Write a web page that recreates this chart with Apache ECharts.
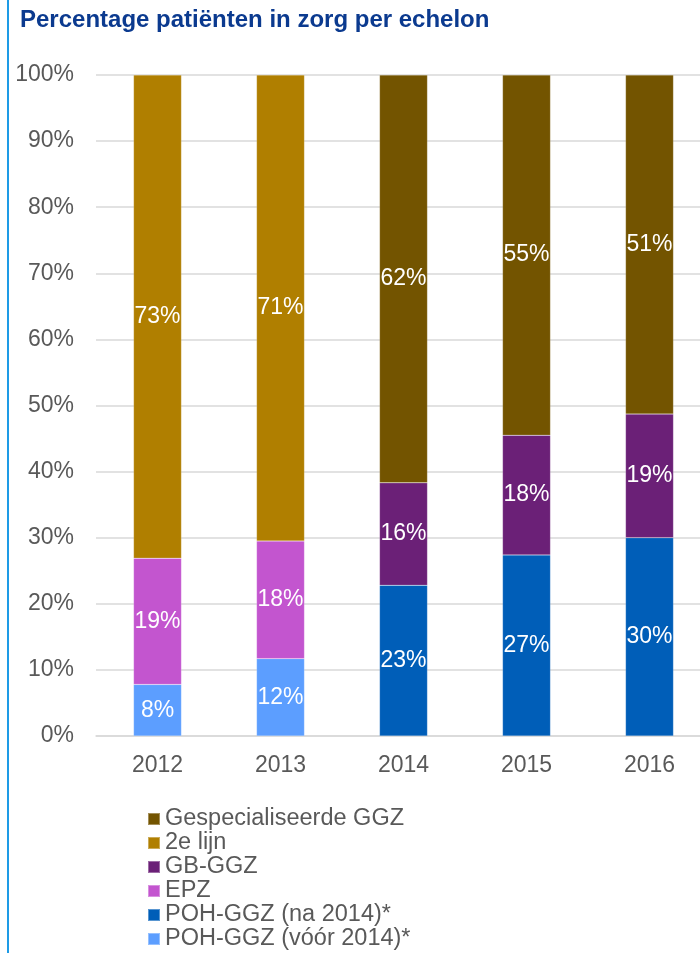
<!DOCTYPE html>
<html>
<head>
<meta charset="utf-8">
<script src="https://cdn.jsdelivr.net/npm/echarts@6/dist/echarts.min.js"></script>
<style>html,body{margin:0;padding:0;background:#fff;overflow:hidden;width:700px;height:953px;}#c{width:715px;height:953px;}</style>
</head>
<body>
<div id="c"></div>
<script>
const years = ['2012', '2013', '2014', '2015', '2016'];
const pohVoor = [7.8, 11.7, null, null, null];
const pohNa = [null, null, 22.8, 27.4, 30.0];
const epz = [19.1, 17.8, null, null, null];
const gbGgz = [null, null, 15.5, 18.1, 18.7];
const tweedeLijn = [73.1, 70.5, null, null, null];
const gespGgz = [null, null, 61.7, 54.5, 51.3];
const yTicks = [0, 10, 20, 30, 40, 50, 60, 70, 80, 90, 100];

const FONT = 'Liberation Sans, Arial, sans-serif';
const chart = echarts.init(document.getElementById('c'), null, {renderer: 'canvas'});

function mk(name, data, color) {
  return {
    name: name, type: 'bar', stack: 'total', data: data, barWidth: 48,
    itemStyle: {color: color, borderColor: 'rgba(255,255,255,0.35)', borderWidth: 0.5},
    label: {show: true, position: 'inside', color: '#fff', fontFamily: FONT, fontSize: 23,
      formatter: p => p.value == null ? '' : Math.round(p.value) + '%'}
  };
}

chart.setOption({
  animation: false,
  title: {text: 'Percentage patiënten in zorg per echelon', left: 15, top: 3,
    textStyle: {fontFamily: FONT, fontSize: 24, fontWeight: 'bold', color: '#0B3A8F'}},
  graphic: [{type: 'rect', shape: {x: 7, y: 0, width: 2, height: 953}, style: {fill: '#1E9BE6'}}],
  grid: {left: 96, top: 75, width: 615, height: 661, containLabel: false},
  xAxis: {type: 'category', data: years,
    axisLine: {show: true, lineStyle: {color: '#d9d9d9', width: 1.5}}, axisTick: {show: false},
    axisLabel: {color: '#595959', fontFamily: FONT, fontSize: 23, margin: 18}},
  yAxis: {type: 'value', min: 0, max: 100, interval: 10,
    axisLine: {show: false}, axisTick: {show: false},
    splitLine: {lineStyle: {color: '#d9d9d9', width: 1.5}},
    axisLabel: {color: '#595959', fontFamily: FONT, fontSize: 23, margin: 22,
      formatter: v => yTicks.includes(v) ? v + '%' : ''}},
  legend: {orient: 'vertical', left: 147, top: 807, height: 146, itemWidth: 12, itemHeight: 12, itemGap: 0,
    icon: 'rect', selectedMode: false, padding: 0,
    textStyle: {color: '#595959', fontFamily: FONT, fontSize: 23.5, lineHeight: 24},
    data: ['Gespecialiseerde GGZ', '2e lijn', 'GB-GGZ', 'EPZ', 'POH-GGZ (na 2014)*', 'POH-GGZ (vóór 2014)*']},
  series: [
    mk('POH-GGZ (vóór 2014)*', pohVoor, '#5C9EFF'),
    mk('POH-GGZ (na 2014)*', pohNa, '#005EB8'),
    mk('EPZ', epz, '#C355CF'),
    mk('GB-GGZ', gbGgz, '#6B2077'),
    mk('2e lijn', tweedeLijn, '#B07F00'),
    mk('Gespecialiseerde GGZ', gespGgz, '#735400')
  ]
});
</script>
</body>
</html>
